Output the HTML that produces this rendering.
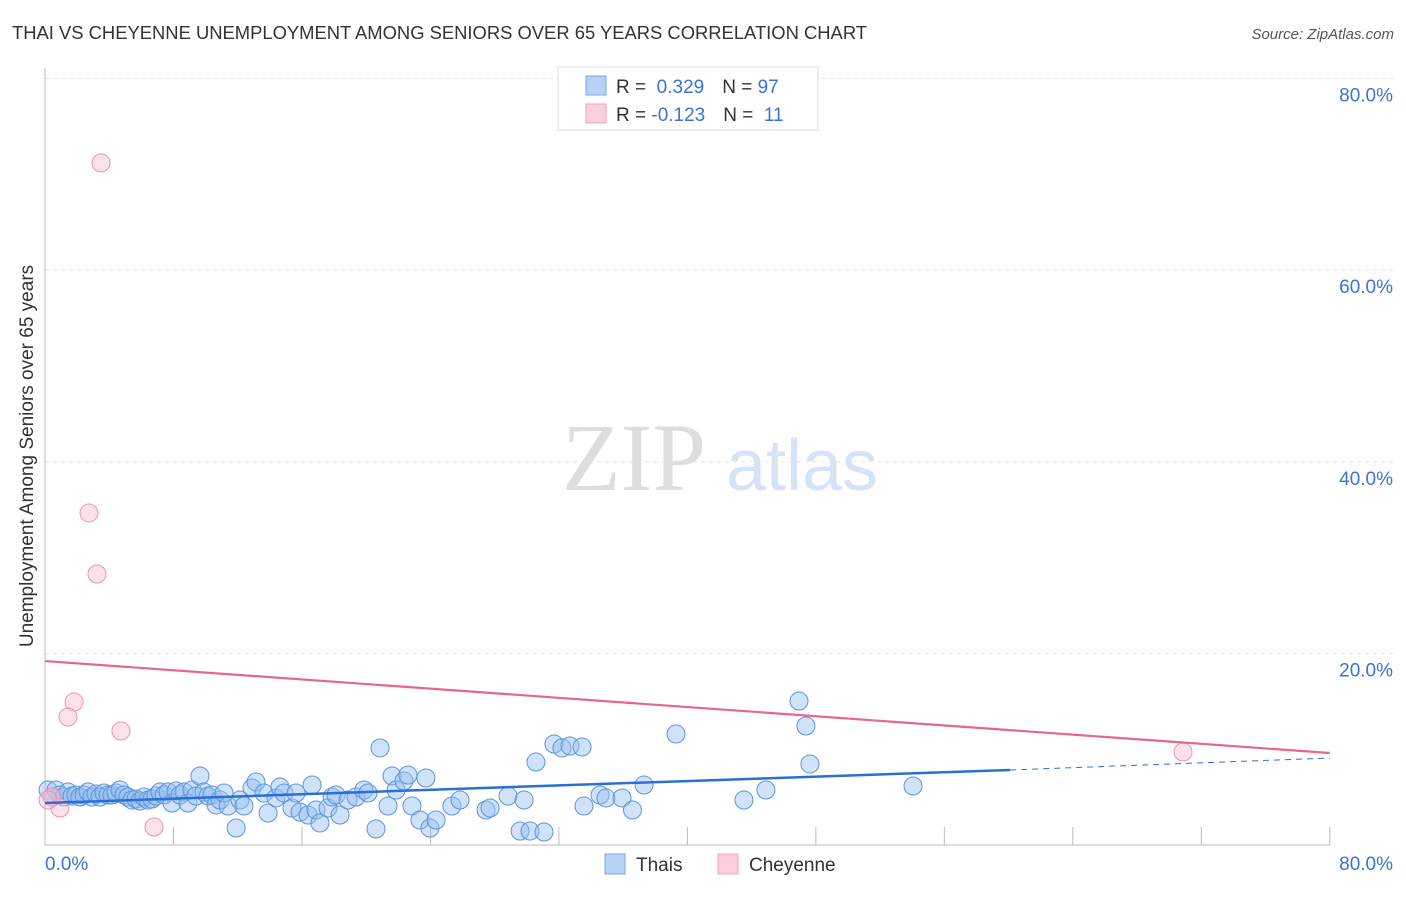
<!DOCTYPE html>
<html><head><meta charset="utf-8"><style>
body{margin:0;background:#fff;font-family:"Liberation Sans",sans-serif;}
svg text{font-family:"Liberation Sans",sans-serif;}
</style></head><body>
<svg id="c" width="1406" height="892" xmlns="http://www.w3.org/2000/svg">
<text x="12" y="39" font-size="18.4" fill="#333">THAI VS CHEYENNE UNEMPLOYMENT AMONG SENIORS OVER 65 YEARS CORRELATION CHART</text>
<text x="1394" y="39" font-size="15" fill="#555" font-style="italic" text-anchor="end">Source: ZipAtlas.com</text>
<text x="33" y="456" font-size="19" fill="#333" text-anchor="middle" transform="rotate(-90 33 456)">Unemployment Among Seniors over 65 years</text>
<g><text x="634" y="490" font-size="96" fill="#ddd" font-family="Liberation Serif" text-anchor="middle" style="font-family:'Liberation Serif',serif">ZIP</text><text x="802" y="490" font-size="72" fill="#d5e3f5" text-anchor="middle">atlas</text></g>
<g id="grid"></g><g id="pts"></g><g id="lines"></g>
<g>
<rect x="558" y="67" width="260" height="63" fill="#fff" stroke="#ddd"/>
<rect x="586" y="76" width="20" height="19" fill="#b8d2f5" stroke="#7aa7e6"/>
<rect x="586" y="104" width="20" height="19" fill="#fbcfdc" stroke="#eea0b8"/>
<text x="616" y="93" font-size="19" fill="#333">R = <tspan fill="#3a74d0">&#160;0.329</tspan><tspan dx="18">N = </tspan><tspan fill="#3a74d0">97</tspan></text>
<text x="616" y="121" font-size="19" fill="#333">R = <tspan fill="#3a74d0">-0.123</tspan><tspan dx="18">N = </tspan><tspan fill="#3a74d0">&#160;11</tspan></text>
</g>
<g>
<rect x="605" y="854" width="20" height="20" fill="#b8d2f5" stroke="#7aa7e6"/>
<text x="636" y="871" font-size="19" fill="#333">Thais</text>
<rect x="718" y="854" width="20" height="20" fill="#fbcfdc" stroke="#eea0b8"/>
<text x="749" y="871" font-size="19" fill="#333">Cheyenne</text>
</g>
</svg>
<script>
const yTicks=[20,40,60,80];
const yTickLabels=["20.0%","40.0%","60.0%","80.0%"];
const xTicks=[8,16,24,32,40,48,56,64,72,80];
const thaiX=[0.19,0.44,0.68,0.93,1.18,1.43,1.68,1.93,2.18,2.43,2.68,2.93,3.18,3.42,3.67,3.92,4.17,4.42,4.67,4.92,5.17,5.42,5.67,5.92,6.16,6.41,6.66,6.91,7.16,7.41,7.66,7.91,8.16,8.41,8.66,8.90,9.15,9.40,9.65,9.90,10.15,10.4,10.65,10.9,11.15,11.4,11.9,12.14,12.39,12.89,13.14,13.64,13.89,14.38,14.63,14.88,15.38,15.63,15.88,16.38,16.63,16.87,17.12,17.62,17.87,18.12,18.37,18.87,19.37,19.86,20.11,20.61,20.86,21.36,21.61,21.86,22.35,22.6,22.85,23.35,23.72,23.97,24.35,25.34,25.84,27.46,27.71,28.83,29.58,29.83,30.2,30.57,31.07,31.69,32.19,32.69,33.44,33.56,34.56,34.93,35.93,36.58,37.3,39.29,43.52,44.89,46.95,47.38,47.63,54.05];
const thaiY=[5.74,5.01,5.74,5.22,5.01,5.53,5.11,5.22,5.01,5.22,5.53,5.01,5.32,5.01,5.43,5.22,5.22,5.43,5.74,5.22,5.01,4.70,4.80,4.59,5.01,4.70,4.80,5.11,5.53,5.22,5.53,4.38,5.64,5.22,5.53,4.38,5.74,5.11,7.20,5.53,5.11,5.22,4.18,4.70,5.43,4.07,1.77,4.70,4.07,5.95,6.58,5.43,3.34,4.91,6.05,5.43,3.86,5.43,3.44,3.13,6.26,3.65,2.30,3.86,5.01,5.22,3.13,4.70,5.01,5.74,5.43,1.67,10.13,4.07,7.20,5.74,6.68,7.31,4.07,2.61,6.99,1.77,2.61,4.07,4.70,3.65,3.86,5.11,1.46,4.70,1.46,8.66,1.36,10.54,10.13,10.33,10.23,4.07,5.22,4.91,4.91,3.65,6.26,11.59,4.70,5.74,15.03,12.42,8.46,6.16];
const cheyX=[3.49,2.74,3.24,1.81,1.43,4.73,6.79,0.93,0.44,0.19,70.86];
const cheyY=[71.2,34.66,28.29,14.93,13.36,11.9,1.88,3.86,5.01,4.70,9.71];
const thaiTrend=[4.38,7.83,9.08]; const thaiTrendX=[0,60.1,80];
const cheyTrend=[19.2,9.6];
const X=v=>45+v*16.06, Y=v=>845-v*9.58;
const NS="http://www.w3.org/2000/svg";
function mk(t,a,p){const e=document.createElementNS(NS,t);for(const k in a)e.setAttribute(k,a[k]);p.appendChild(e);return e;}
const g=document.getElementById('grid');
yTicks.forEach((v,i)=>{
 const l=mk('line',{x1:45,x2:1393,y1:Y(v),y2:Y(v),stroke:'#e3e3e3','stroke-dasharray':'4,4'},g);
 
 
 const t=mk('text',{x:1393,y:Y(v)+23,'font-size':19,fill:'#3a74d0','text-anchor':'end'},g);t.textContent=yTickLabels[i];
 
 
});
const ax=mk('path',{d:`M45,68 V${Y(0)} H1330`,stroke:'#bbb',fill:'none'},g);


xTicks.forEach(v=>{const l=mk('line',{x1:X(v),x2:X(v),y1:Y(0),y2:Y(0)-18,stroke:'#bbb'},g);
 
 });
let t=mk('text',{x:45,y:870,'font-size':19,fill:'#3a74d0'},g);t.textContent='0.0%';


t=mk('text',{x:1393,y:870,'font-size':19,fill:'#3a74d0','text-anchor':'end'},g);t.textContent='80.0%';


const p=document.getElementById('pts');
thaiX.forEach((v,i)=>{const c=mk('circle',{cx:X(v),cy:Y(thaiY[i]),r:9,fill:'rgba(150,190,240,0.45)',stroke:'#5b95e0','stroke-width':1},p);
 
 });
cheyX.forEach((v,i)=>{const c=mk('circle',{cx:X(v),cy:Y(cheyY[i]),r:9,fill:'rgba(250,190,208,0.45)',stroke:'#ec93b0','stroke-width':1},p);
 
 });
const L=document.getElementById('lines');
let l=mk('line',{x1:X(thaiTrendX[0]),y1:Y(thaiTrend[0]),x2:X(thaiTrendX[1]),y2:Y(thaiTrend[1]),stroke:'#2b6fd6','stroke-width':2.5},L);


l=mk('line',{x1:X(thaiTrendX[1]),y1:Y(thaiTrend[1]),x2:X(thaiTrendX[2]),y2:Y(thaiTrend[2]),stroke:'#2b6fd6','stroke-width':1,'stroke-dasharray':'6,5'},L);


l=mk('line',{x1:X(0),y1:Y(cheyTrend[0]),x2:X(80),y2:Y(cheyTrend[1]),stroke:'#e8648f','stroke-width':2.2},L);


</script>
</body></html>
